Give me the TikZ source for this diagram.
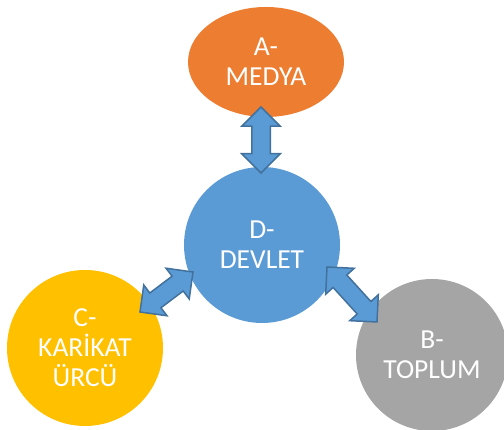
\documentclass[tikz,border=0pt]{standalone}
\usepackage{fontspec}
\setmainfont{Carlito}
\usetikzlibrary{shapes.geometric,shapes.arrows,calc}

\definecolor{turuncu}{HTML}{ED7D31}
\definecolor{mavi}{HTML}{5B9BD5}
\definecolor{sari}{HTML}{FFC000}
\definecolor{gri}{HTML}{A5A5A5}
\definecolor{okkenar}{HTML}{41719C}

\begin{document}
\begin{tikzpicture}[x=1pt, y=1pt,
	yazi/.style={text=white, align=center, inner sep=0pt, font=\fontsize{27.5}{30}\selectfont},
	daire/.style={yazi, circle, minimum size=156pt},
	okcift/.style={double arrow, fill=mavi, draw=okkenar, line width=1.5pt, inner sep=8.5pt,
		minimum width=37pt, double arrow head extend=10pt, double arrow tip angle=90}]

	\useasboundingbox (0,0) rectangle (504,430);

	\node[yazi, ellipse, fill=turuncu, minimum width=156pt, minimum height=110pt] (medya) at (266,368) {A-\\MEDYA};
	\node[daire, fill=mavi] (devlet) at (262,185) {D-\\DEVLET};
	\node[daire, fill=sari] (karikatur) at (85,82) {C-\\KAR\.IKAT\\ÜRCÜ};
	\node[daire, fill=gri, minimum size=152pt] (toplum) at (432,75) {B-\\TOPLUM};

	% ok uclari
	\coordinate (ucMedya) at (261,323);
	\coordinate (ucDevletA) at (261,257);
	\coordinate (ucKarikatur) at (140,118);
	\coordinate (ucDevletC) at (193,158);
	\coordinate (ucDevletB) at (327,163);
	\coordinate (ucToplum) at (377,108);

	\foreach \bas/\son/\ad in {ucMedya/ucDevletA/okA, ucKarikatur/ucDevletC/okC, ucDevletB/ucToplum/okB} {
		\path let \p1=($(\son)-(\bas)$), \n1={atan2(\y1,\x1)}, \n2={veclen(\x1,\y1)} in
			node[okcift, minimum height=\n2, rotate=\n1] (\ad) at ($(\bas)!0.5!(\son)$) {};
	}

\end{tikzpicture}
\end{document}
